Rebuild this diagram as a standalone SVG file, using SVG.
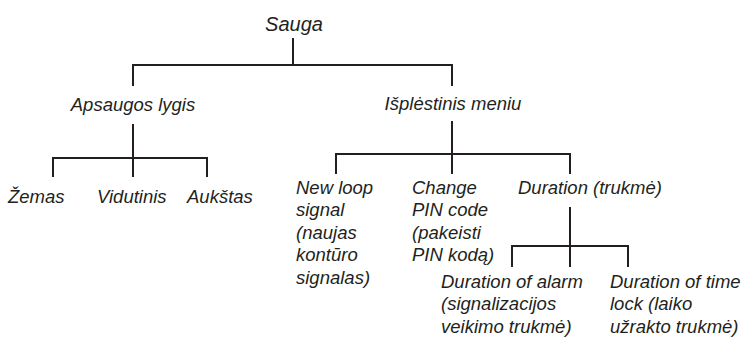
<svg xmlns="http://www.w3.org/2000/svg" width="746" height="338" viewBox="0 0 746 338">
<style>
text{font-family:"Liberation Sans",Arial,sans-serif;font-style:italic;font-size:18.5px;fill:#231f20}
.big{font-size:20px}
.c{text-anchor:middle}
.conn path{fill:none;stroke:#231f20;stroke-width:2}
</style>
<rect width="746" height="338" fill="#fff"/>
<g class="conn">
<path d="M293 38V65M133 86V65H452V86"/>
<path d="M133 124V177M53 177V158H207V177"/>
<path d="M452 121V174M336 174V154H570V174"/>
<path d="M570 207V267M512 267V246H628V267"/>
</g>
<g id="sauga"><text class="big c" x="294" y="31">Sauga</text></g>
<g id="apsaugos"><text class="c" x="133" y="111">Apsaugos lygis</text></g>
<g id="isplestinis"><text class="c" x="453" y="110">Išplėstinis meniu</text></g>
<g id="zemas"><text x="8" y="203">Žemas</text></g>
<g id="vidutinis"><text x="97" y="203">Vidutinis</text></g>
<g id="aukstas"><text x="187" y="203">Aukštas</text></g>
<g id="newloop"><text x="296" y="194">New loop<tspan x="296" dy="22.4">signal</tspan><tspan x="296" dy="22.4">(naujas</tspan><tspan x="296" dy="22.4">kontūro</tspan><tspan x="296" dy="22.4">signalas)</tspan></text></g>
<g id="changepin"><text x="412" y="194">Change<tspan x="412" dy="22.4">PIN code</tspan><tspan x="412" dy="22.4">(pakeisti</tspan><tspan x="412" dy="22.4">PIN kodą)</tspan></text></g>
<g id="duration"><text x="518" y="194">Duration (trukmė)</text></g>
<g id="alarm"><text x="441" y="288">Duration of alarm<tspan x="441" dy="22.4">(signalizacijos</tspan><tspan x="441" dy="22.4">veikimo trukmė)</tspan></text></g>
<g id="timelock"><text x="610" y="288">Duration of time<tspan x="610" dy="22.4">lock (laiko</tspan><tspan x="610" dy="22.4">užrakto trukmė)</tspan></text></g>
</svg>
